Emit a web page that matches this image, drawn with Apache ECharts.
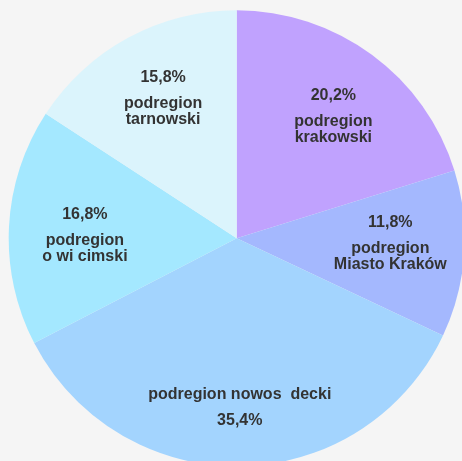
<!DOCTYPE html>
<html><head><meta charset="utf-8">
<script src="https://cdn.jsdelivr.net/npm/echarts@6/dist/echarts.min.js"></script>
<style>html,body{margin:0;padding:0;background:#f5f5f5}#c{width:462px;height:461px}</style>
</head><body><div id="c"></div>
<script>
const categories = ['podregion krakowski', 'podregion Miasto Kraków', 'podregion nowos  decki', 'podregion o wi cimski', 'podregion tarnowski'];
const values = [20.2, 11.8, 35.4, 16.8, 15.8];
const colors = ['#C0A2FE', '#A4B8FE', '#A3D4FE', '#A4E8FF', '#DBF4FC'];

const nudges = [{dx: 0, dy: 5}, {dx: -9, dy: -11}, {dx: 0, dy: 11}, {dx: 11, dy: 0}, {dx: 4, dy: -1}];
const pct = v => v.toFixed(1).replace('.', ',') + '%';

const data = categories.map((name, i) => ({name, value: values[i]}));
const center = [236.7, 238.3];
const font = "'Liberation Sans', Arial, sans-serif";

const chart = echarts.init(document.getElementById('c'), null, {renderer: 'canvas'});
chart.setOption({
  backgroundColor: '#f5f5f5',
  animation: false,
  series: [
    {
      type: 'pie',
      center: center,
      radius: [0, 228],
      startAngle: 90,
      clockwise: true,
      silent: true,
      data: data.map((d, i) => ({...d, itemStyle: {color: colors[i]}})),
      itemStyle: {borderWidth: 0},
      label: {show: false},
      labelLine: {show: false},
      emphasis: {disabled: true}
    },
    {
      type: 'pie',
      center: center,
      radius: [0, 320],
      startAngle: 90,
      clockwise: true,
      silent: true,
      z: 5,
      data: data,
      itemStyle: {color: 'rgba(0,0,0,0)', borderWidth: 0},
      labelLine: {show: false},
      emphasis: {disabled: true},
      label: {
        show: true,
        position: 'inside',
        rotate: 0,
        fontFamily: font,
        formatter: p => {
          const i = p.dataIndex;
          if (i === 2) return '{n|' + p.name + '}\n{p|' + pct(p.value) + '}';
          const k = p.name.indexOf(' ');
          return '{p|' + pct(p.value) + '}\n{n|' + p.name.slice(0, k) + '}\n{n|' + p.name.slice(k + 1) + '}';
        },
        rich: {
          p: {fontSize: 16, fontWeight: 'bold', lineHeight: 36, color: '#333', fontFamily: font, align: 'center'},
          n: {fontSize: 16, fontWeight: 'bold', lineHeight: 16, color: '#333', fontFamily: font, align: 'center'}
        }
      },
      labelLayout: params => nudges[params.dataIndex]
    }
  ]
});
</script>
</body></html>
